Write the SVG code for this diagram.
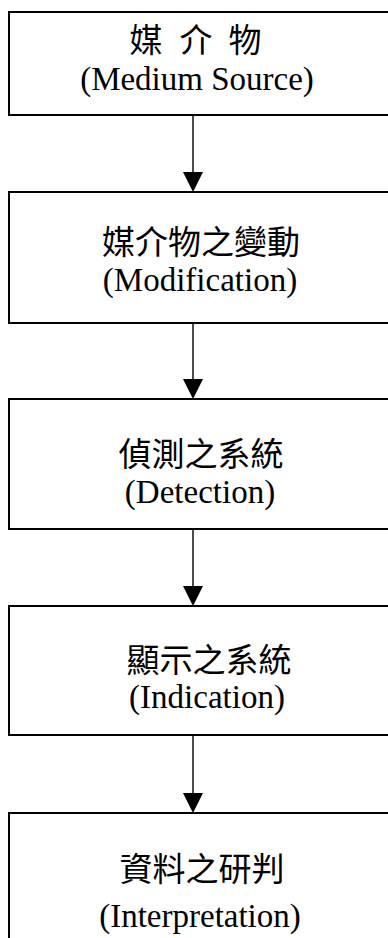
<svg xmlns="http://www.w3.org/2000/svg" width="388" height="938" viewBox="0 0 388 938">
<style>
.box{fill:#fff;stroke:#000;stroke-width:2}
.zh{font-family:"Noto Sans CJK TC","Noto Sans CJK SC",sans-serif;font-size:33px;font-weight:400;fill:#000;text-anchor:middle}
.en{font-family:"Liberation Serif","Times New Roman",serif;font-size:33px;fill:#000;text-anchor:middle}
.ln{stroke:#000;stroke-width:1.4;fill:none}
.ah{fill:#000}
</style>
<rect width="388" height="938" fill="#fff"/>
<g id="connectors">
<line class="ln" x1="193" y1="115" x2="193" y2="174"/>
<polygon class="ah" points="183,172 203,172 193,192"/>
<line class="ln" x1="193" y1="323" x2="193" y2="381"/>
<polygon class="ah" points="183,379 203,379 193,399"/>
<line class="ln" x1="193" y1="529" x2="193" y2="588"/>
<polygon class="ah" points="183,586 203,586 193,606"/>
<line class="ln" x1="193" y1="735" x2="193" y2="795"/>
<polygon class="ah" points="183,793 203,793 193,813"/>
</g>
<g id="node1">
<rect class="box" x="9" y="12" width="400" height="103"/>
<text class="zh" y="52"><tspan x="146">媒</tspan><tspan x="196">介</tspan><tspan x="245">物</tspan></text>
<text class="en" x="197" y="90">(Medium Source)</text>
</g>
<g id="node2">
<rect class="box" x="9" y="192" width="400" height="131"/>
<text class="zh" x="201" y="254">媒介物之變動</text>
<text class="en" x="200" y="291">(Modification)</text>
</g>
<g id="node3">
<rect class="box" x="9" y="399" width="400" height="130"/>
<text class="zh" x="201" y="466">偵測之系統</text>
<text class="en" x="200" y="503">(Detection)</text>
</g>
<g id="node4">
<rect class="box" x="9" y="606" width="400" height="129"/>
<text class="zh" x="209" y="672">顯示之系統</text>
<text class="en" x="207" y="708">(Indication)</text>
</g>
<g id="node5">
<rect class="box" x="9" y="813" width="400" height="140"/>
<text class="zh" x="202" y="881">資料之研判</text>
<text class="en" x="200" y="927">(Interpretation)</text>
</g>
</svg>
